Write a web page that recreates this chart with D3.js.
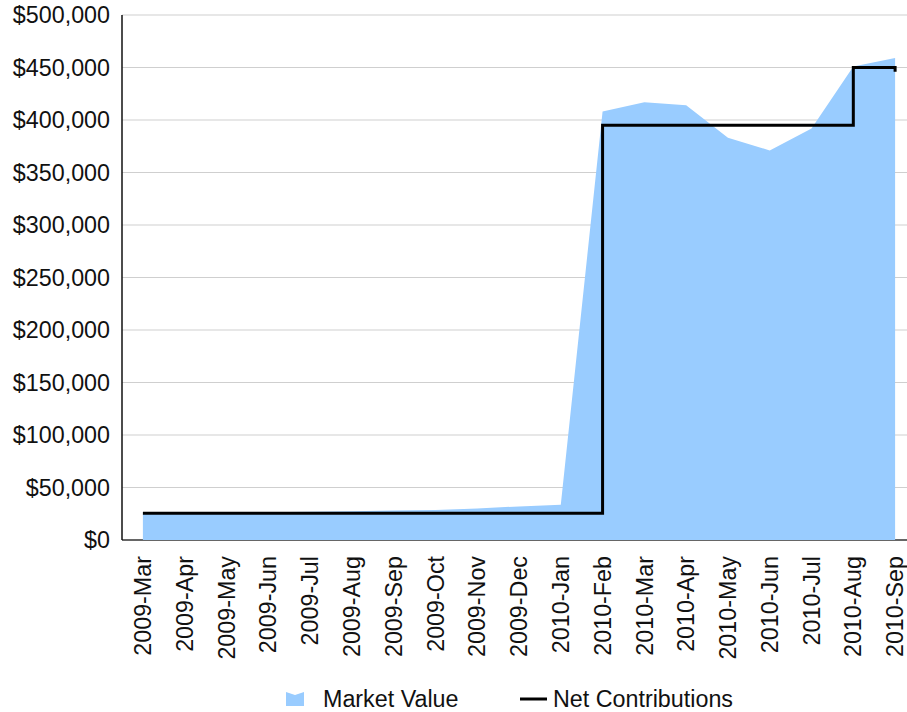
<!DOCTYPE html>
<html>
<head>
<meta charset="utf-8">
<script src="https://cdn.jsdelivr.net/npm/d3@7/dist/d3.min.js"></script>
<style>
  html, body { margin: 0; padding: 0; background: #fff; overflow: hidden; }
  svg { display: block; }
  text { font-family: "Liberation Sans", Arial, sans-serif; fill: #111; }
</style>
</head>
<body>
<svg id="chart" width="907" height="712"></svg>
<script>
const months = ["2009-Mar","2009-Apr","2009-May","2009-Jun","2009-Jul","2009-Aug","2009-Sep","2009-Oct","2009-Nov","2009-Dec","2010-Jan","2010-Feb","2010-Mar","2010-Apr","2010-May","2010-Jun","2010-Jul","2010-Aug","2010-Sep"];
const marketValue = [25000, 25500, 26000, 26500, 27000, 27500, 28000, 28500, 30000, 32000, 33500, 408000, 417000, 414000, 383000, 371000, 392000, 451000, 459000];
const netContributions = [25500, 25500, 25500, 25500, 25500, 25500, 25500, 25500, 25500, 25500, 25500, 395000, 395000, 395000, 395000, 395000, 395000, 450000, 446000];
const yTicks = [0, 50000, 100000, 150000, 200000, 250000, 300000, 350000, 400000, 450000, 500000];
const seriesNames = ["Market Value", "Net Contributions"];

(function () {
const svg = d3.select("#chart");
const W = 907;
const mLeft = 122, mTop = 15, mBottom = 540, mRight = 916;
const fs = "23.3px";

const x = d3.scalePoint().domain(months).range([mLeft, mRight]).padding(0.5);
const y = d3.scaleLinear().domain([0, 500000]).range([mBottom, mTop]);
const fmt = v => "$" + d3.format(",")(v);

// gridlines
svg.append("g").selectAll("line").data(yTicks.filter(d => d > 0)).join("line")
  .attr("x1", mLeft).attr("x2", W)
  .attr("y1", d => y(d)).attr("y2", d => y(d))
  .attr("stroke", "#cfcfcf").attr("stroke-width", 1.2);

// y labels
svg.append("g").selectAll("text").data(yTicks).join("text")
  .attr("x", mLeft - 12).attr("y", d => y(d))
  .attr("dy", "0.35em")
  .attr("text-anchor", "end")
  .style("font-size", fs)
  .text(fmt);

// x axis line
svg.append("line").attr("x1", mLeft).attr("x2", W).attr("y1", mBottom).attr("y2", mBottom)
  .attr("stroke", "#333").attr("stroke-width", 1.5);

// area
const area = d3.area()
  .x((d, i) => x(months[i]))
  .y0(y(0))
  .y1(d => y(d));
svg.append("path").datum(marketValue)
  .attr("d", area)
  .attr("fill", "#99ccff");

// y axis line
svg.append("line").attr("x1", mLeft).attr("x2", mLeft).attr("y1", mTop).attr("y2", mBottom)
  .attr("stroke", "#111").attr("stroke-width", 1.5);

// net contributions step line
const line = d3.line()
  .x((d, i) => x(months[i]))
  .y(d => y(d))
  .curve(d3.curveStepAfter);
svg.append("path").datum(netContributions)
  .attr("d", line)
  .attr("fill", "none")
  .attr("stroke", "#000")
  .attr("stroke-width", 3)
  .attr("stroke-linejoin", "miter");

// x labels
svg.append("g").selectAll("text").data(months).join("text")
  .attr("transform", d => `translate(${x(d)},${mBottom + 16}) rotate(-90)`)
  .attr("text-anchor", "end")
  .attr("dy", "0.35em")
  .style("font-size", fs)
  .text(d => d);

// legend
const ly = 699;
const lg = svg.append("g");
const iw = 18, ih = 14, ix = 286;
lg.append("path")
  .attr("d", `M${ix},${ly - ih/2} L${ix + iw/2},${ly - ih/2 + 3} L${ix + iw},${ly - ih/2} L${ix + iw},${ly + ih/2} L${ix},${ly + ih/2} Z`)
  .attr("fill", "#99ccff");
lg.append("text").attr("x", 323).attr("y", ly).attr("dy", "0.35em")
  .style("font-size", fs).text(seriesNames[0]);
lg.append("line").attr("x1", 520).attr("x2", 547).attr("y1", ly).attr("y2", ly)
  .attr("stroke", "#000").attr("stroke-width", 3);
lg.append("text").attr("x", 553).attr("y", ly).attr("dy", "0.35em")
  .style("font-size", fs).text(seriesNames[1]);
})();
</script>
</body>
</html>
